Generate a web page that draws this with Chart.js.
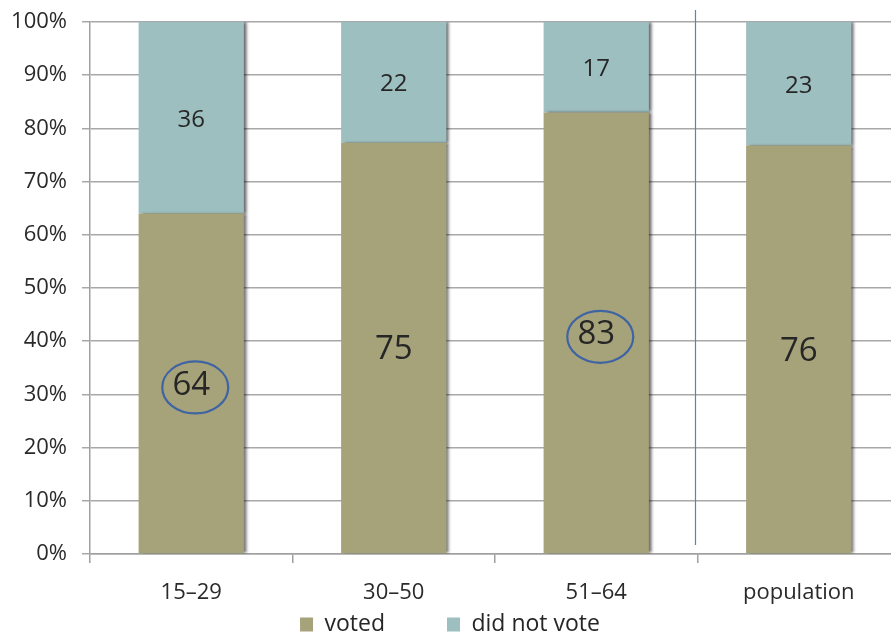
<!DOCTYPE html>
<html>
<head>
<meta charset="utf-8">
<script src="https://cdn.jsdelivr.net/npm/chart.js@4.4.1/dist/chart.umd.min.js"></script>
<style>
  html, body { margin: 0; padding: 0; background: #fff; overflow: hidden; }
  #wrap { width: 891px; height: 634px; overflow: hidden; position: relative; }
  canvas { display: block; }
</style>
</head>
<body>
<div id="wrap"><canvas id="c" width="900" height="646"></canvas></div>
<script>
// ---- data ----
const categories = ['15\u201329', '30\u201350', '51\u201364', 'population'];
const voted      = [64, 75, 83, 76];
const didNotVote = [36, 22, 17, 23];
const highlighted = [0, 2];              // categories whose "voted" value is circled
const yTickValues = [0, 10, 20, 30, 40, 50, 60, 70, 80, 90, 100];
const seriesNames = ['voted', 'did not vote'];

// 100% stacked: shares of each bar
const totals = voted.map((v, i) => v + didNotVote[i]);
const votedShare = voted.map((v, i) => v / totals[i] * 100);
const notShare = didNotVote.map((v, i) => v / totals[i] * 100);

const OLIVE = '#a6a27a';
const TEAL = '#9dbfc0';
const FONT = "'Open Sans', 'DejaVu Sans', sans-serif";

const shadowPlugin = {
  id: 'barShadow',
  beforeDatasetsDraw(chart) {
    const ctx = chart.ctx;
    ctx.save();
    ctx.shadowColor = 'rgba(0,0,0,0.6)';
    ctx.shadowOffsetX = 3;
    ctx.shadowOffsetY = 0;
    ctx.shadowBlur = 3;
  },
  afterDatasetsDraw(chart) {
    chart.ctx.restore();
  }
};

const labelPlugin = {
  id: 'segLabels',
  afterDatasetsDraw(chart) {
    const ctx = chart.ctx;
    ctx.save();
    ctx.textAlign = 'center';
    ctx.textBaseline = 'middle';
    ctx.fillStyle = '#262626';
    const raw = [voted, didNotVote];
    chart.data.datasets.forEach((ds, di) => {
      const meta = chart.getDatasetMeta(di);
      meta.data.forEach((bar, i) => {
        const cx = bar.x;
        const cy = (bar.y + bar.base) / 2 + 2;
        ctx.font = (di === 0 ? '33px ' : '24px ') + FONT;
        ctx.fillText(String(raw[di][i]), cx, cy);
        if (di === 0 && highlighted.includes(i)) {
          ctx.beginPath();
          ctx.strokeStyle = '#3f64a3';
          ctx.lineWidth = 2.2;
          ctx.ellipse(cx + 4, cy + 2, 33, 26, 0, 0, Math.PI * 2);
          ctx.stroke();
        }
      });
    });
    ctx.restore();
  }
};

const separatorPlugin = {
  id: 'separator',
  afterDatasetsDraw(chart) {
    const x = Math.round(chart.scales.x.getPixelForValue(2.5)) - 2.5;
    const ctx = chart.ctx;
    ctx.save();
    ctx.strokeStyle = '#5a82bd';
    ctx.lineWidth = 1.2;
    ctx.beginPath();
    ctx.moveTo(x, 10);
    ctx.lineTo(x, 545);
    ctx.stroke();
    ctx.restore();
  }
};

new Chart(document.getElementById('c'), {
  type: 'bar',
  data: {
    labels: categories,
    datasets: [
      { label: seriesNames[0], data: votedShare, backgroundColor: OLIVE, borderWidth: 0 },
      { label: seriesNames[1], data: notShare, backgroundColor: TEAL, borderWidth: 0 }
    ]
  },
  options: {
    responsive: false,
    animation: false,
    devicePixelRatio: 1,
    layout: { padding: { top: 22, right: 0, left: 0, bottom: 0 } },
    datasets: { bar: { categoryPercentage: 1, barPercentage: 0.52 } },
    plugins: {
      tooltip: { enabled: false },
      legend: {
        position: 'bottom',
        labels: {
          font: { family: FONT, size: 23 },
          color: '#262626',
          boxWidth: 13,
          boxHeight: 14,
          padding: 4,
          generateLabels(chart) {
            return chart.data.datasets.map((ds, i) => ({
              text: ds.label + (i === 0 ? '\u2003\u2003  ' : ''),
              fillStyle: ds.backgroundColor,
              strokeStyle: ds.backgroundColor,
              lineWidth: 0,
              hidden: false,
              datasetIndex: i,
              fontColor: '#262626'
            }));
          }
        }
      }
    },
    scales: {
      x: {
        stacked: true,
        grid: { drawOnChartArea: false, drawTicks: true, tickLength: 9, offset: true, color: '#a0a0a0', lineWidth: 1.5 },
        border: { display: true, color: '#a0a0a0', width: 1.5 },
        ticks: { font: { family: FONT, size: 22 }, color: '#2a2a2a', padding: 17 },
        afterFit(scale) { scale.height = 55; scale.paddingLeft = 0; scale.paddingRight = 0; }
      },
      y: {
        stacked: true,
        min: 0,
        max: 100,
        afterBuildTicks(scale) { scale.ticks = yTickValues.map(v => ({ value: v })); },
        grid: { color: '#a8a8a8', lineWidth: 1.5, tickLength: 8 },
        border: { display: true, color: '#a0a0a0', width: 1.5 },
        ticks: {
          font: { family: FONT, size: 22 },
          color: '#2a2a2a',
          padding: 15,
          callback: v => v + '%'
        },
        afterFit(scale) { scale.width = 90; scale.paddingTop = 0; scale.paddingBottom = 0; }
      }
    }
  },
  plugins: [shadowPlugin, labelPlugin, separatorPlugin]
});
</script>
</body>
</html>
